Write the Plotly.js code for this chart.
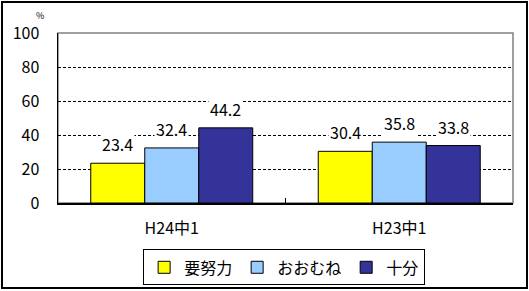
<!DOCTYPE html>
<html>
<head>
<meta charset="utf-8">
<script src="https://cdn.plot.ly/plotly-3.0.1.min.js"></script>
<style>
html,body{margin:0;padding:0;background:#fff;}
#wrap{position:relative;width:529px;height:291px;}
#chart{width:529px;height:291px;}
#frame{position:absolute;left:1px;top:1px;width:523px;height:284px;border:2px solid #000;pointer-events:none;}
</style>
</head>
<body>
<div id="wrap"><div id="chart"></div><div id="frame"></div></div>
<script>
const categories = ["H24中1", "H23中1"];
const seriesNames = ["要努力", "おおむね", "十分"];
const yoDoryoku = [23.4, 30.4];
const oomune = [32.4, 35.8];
const juubun = [44.2, 33.8];
const yTicks = [0, 20, 40, 60, 80, 100];

const seriesValues = [yoDoryoku, oomune, juubun];
const colors = ["#FFFF00", "#99CCFF", "#333399"];
const FONT = "'Noto Sans CJK JP', 'Noto Sans', sans-serif";

const traces = seriesValues.map((vals, i) => ({
  type: "bar",
  name: seriesNames[i],
  x: categories,
  y: vals,
  marker: {color: colors[i], line: {color: "#000", width: 1}},
  hoverinfo: "none"
}));

const offsets = [-54, 0, 54];
const annotations = [];
seriesValues.forEach((vals, i) => {
  vals.forEach((v, j) => {
    annotations.push({
      x: categories[j], y: v, xref: "x", yref: "y",
      text: v.toFixed(1), showarrow: false,
      xshift: offsets[i], yshift: 5, yanchor: "bottom",
      bgcolor: "#fff", borderpad: 1,
      font: {family: FONT, size: 16, color: "#000"}
    });
  });
});
annotations.push({
  xref: "paper", yref: "paper", x: -0.04, y: 1.1,
  text: "%", showarrow: false, xanchor: "center", yanchor: "middle",
  font: {family: FONT, size: 9, color: "#000"}
});

const layout = {
  width: 529, height: 291,
  margin: {l: 58, r: 16, t: 33, b: 88, pad: 0, autoexpand: false},
  paper_bgcolor: "#fff", plot_bgcolor: "#fff",
  barmode: "group", bargap: 0.288, bargroupgap: 0,
  font: {family: FONT, size: 16, color: "#000"},
  showlegend: true,
  legend: {
    orientation: "h", x: 0.497, xanchor: "center",
    yref: "container", y: 0.143, yanchor: "top",
    bordercolor: "#000", borderwidth: 1, bgcolor: "#fff",
    font: {family: FONT, size: 16, color: "#000"},
    itemwidth: 30, traceorder: "normal"
  },
  xaxis: {
    type: "category", automargin: false,
    showline: true, linecolor: "#000", linewidth: 1.5,
    ticks: "inside", ticklen: 5, tickcolor: "#000", tickson: "boundaries",
    showgrid: false, zeroline: false,
    ticklabelstandoff: 10,
    tickfont: {family: FONT, size: 16, color: "#000"}
  },
  yaxis: {
    range: [0, 100], tickvals: yTicks, ticktext: yTicks.map(String), automargin: false,
    showline: true, linecolor: "#000", linewidth: 1.5,
    ticks: "", showgrid: true, gridcolor: "#000", gridwidth: 1,
    griddash: "3px,2px", zeroline: false,
    ticklabelstandoff: 14,
    tickfont: {family: FONT, size: 16, color: "#000"}
  },
  shapes: [{
    type: "rect", xref: "paper", yref: "paper", x0: 0, x1: 1, y0: 0, y1: 1,
    line: {color: "#808080", width: 1.5}, layer: "below"
  }],
  annotations: annotations
};

Plotly.newPlot("chart", traces, layout, {staticPlot: true, displayModeBar: false});
</script>
</body>
</html>
